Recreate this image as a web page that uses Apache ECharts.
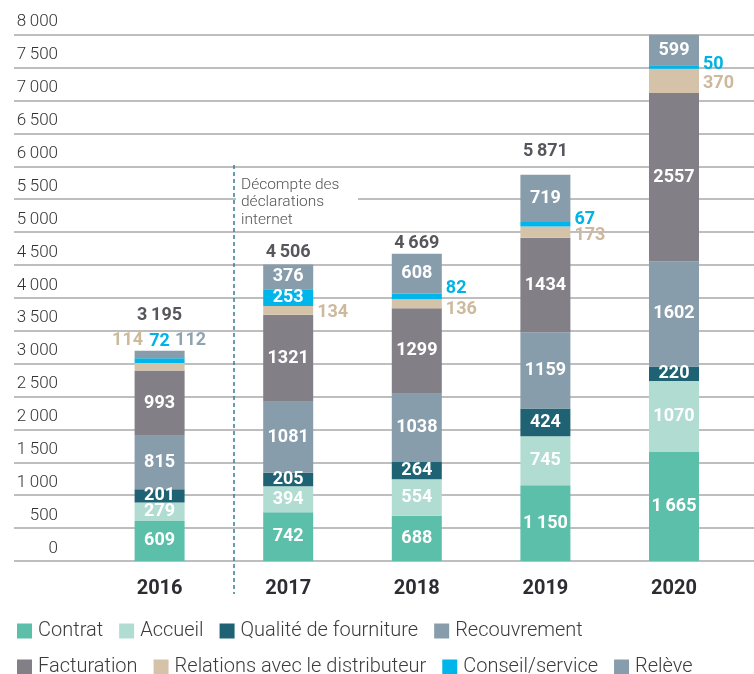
<!DOCTYPE html>
<html>
<head>
<meta charset="utf-8">
<script src="https://cdn.jsdelivr.net/npm/echarts@6/dist/echarts.min.js"></script>
<style>
html,body{margin:0;padding:0;background:#fff;}
#c{width:754px;height:674px;}
</style>
</head>
<body>
<div id="c"></div>
<script>
// ---- data ----
const categories = ['2016', '2017', '2018', '2019', '2020'];
const contrat      = [609, 742, 688, 1150, 1665];
const accueil      = [279, 394, 554, 745, 1070];
const qualite      = [201, 205, 264, 424, 220];
const recouvrement = [815, 1081, 1038, 1159, 1602];
const facturation  = [993, 1321, 1299, 1434, 2557];
const relations    = [114, 134, 136, 173, 370];
const conseil      = [72, 253, 82, 67, 50];
const releve       = [112, 376, 608, 719, 599];
const totals       = [3195, 4506, 4669, 5871, 8133];
const yMin = 0, yMax = 8000, yStep = 500;
const annotationText = 'Décompte des\ndéclarations\ninternet';

// ---- styling ----
const FONT = 'Roboto';
const fmt = v => String(v).replace(/\B(?=(\d{3})+(?!\d))/g, '\u2009');

const seriesDefs = [
  { name: 'Contrat', values: contrat, color: '#5cbfaa', spaced: true },
  { name: 'Accueil', values: accueil, color: '#b1dcd2' },
  { name: 'Qualité de fourniture', values: qualite, color: '#1e6273' },
  { name: 'Recouvrement', values: recouvrement, color: '#889dab' },
  { name: 'Facturation', values: facturation, color: '#837f87' },
  { name: 'Relations avec le distributeur', values: relations, color: '#d5c3a9',
    label: { position: 'right', distance: 4, color: '#cdb99c' },
    items: { 0: { position: 'top', distance: 0, offset: [-32, -13] }, 1: { offset: [0, 2] }, 2: { offset: [0, 6] }, 3: { offset: [0, 3] }, 4: { offset: [0, 3] } } },
  { name: 'Conseil/service', values: conseil, color: '#00b5e9',
    label: { position: 'right', distance: 4, color: '#00b3e6' },
    items: { 0: { position: 'top', distance: 0, offset: [0, -8] }, 1: { position: 'inside', color: '#fff', offset: [0, 0] }, 2: { offset: [0, -8] }, 3: { offset: [0, -5] }, 4: { offset: [0, -3] } } },
  { name: 'Relève', values: releve, color: '#889dab',
    items: { 0: { position: 'top', distance: 0, color: '#8fa3b0', offset: [31, -1] } } }
];
const totalOffsets = [-35, -12, -10, -23, -10];

const baseLabel = { show: true, position: 'inside', color: '#ffffff', fontFamily: FONT, fontWeight: 'bold', fontSize: 18 };

const barSeries = seriesDefs.map(d => ({
  name: d.name,
  type: 'bar',
  stack: 'total',
  xAxisIndex: 1, yAxisIndex: 1,
  barWidth: 50,
  itemStyle: { color: d.color },
  label: Object.assign({}, baseLabel, d.label || {}, { formatter: p => d.spaced ? fmt(p.value) : String(p.value) }),
  emphasis: { disabled: true },
  data: d.values.map((v, i) => (d.items && d.items[i]) ? { value: v, label: d.items[i] } : v)
}));

const totalSeries = {
  name: 'Total', type: 'scatter', xAxisIndex: 1, yAxisIndex: 1,
  symbolSize: 0, silent: true, z: 5,
  label: { show: true, position: 'inside', color: '#2c2c33', fontFamily: FONT, fontWeight: 'bold', fontSize: 18, formatter: p => fmt(p.value) },
  data: totals.map((v, i) => ({ value: v, label: { offset: [0, totalOffsets[i]] } }))
};

const legendCommon = { left: 12, itemGap: 16, itemWidth: 15, itemHeight: 15, icon: 'rect', selectedMode: false,
  textStyle: { fontFamily: FONT, fontSize: 20, fontWeight: 300, color: '#3c3c3c', padding: [0, 0, 0, 1] } };

const chart = echarts.init(document.getElementById('c'), null, { renderer: 'canvas' });
chart.setOption({
  animation: false,
  backgroundColor: '#ffffff',
  textStyle: { fontFamily: FONT },
  color: seriesDefs.map(d => d.color),
  grid: [
    { left: 14, right: 0, top: 34.7, bottom: 113 },
    { left: 95.3, right: 15.7, top: 34.7, bottom: 113 }
  ],
  legend: [
    Object.assign({}, legendCommon, { top: 616, data: seriesDefs.slice(0, 4).map(d => d.name) }),
    Object.assign({}, legendCommon, { top: 652, data: seriesDefs.slice(4).map(d => d.name) })
  ],
  xAxis: [
    { type: 'value', gridIndex: 0, show: false, min: 0, max: 1 },
    { type: 'category', gridIndex: 1, data: categories,
      axisLine: { show: false }, axisTick: { show: false },
      axisLabel: { margin: 18, fontFamily: FONT, fontWeight: 'bold', fontSize: 20, color: '#2c2c33' } }
  ],
  yAxis: [
    { type: 'value', gridIndex: 0, min: yMin, max: yMax, interval: yStep,
      axisLine: { show: false }, axisTick: { show: false },
      splitLine: { show: true, lineStyle: { color: '#a9a9a9', width: 1.5 } },
      axisLabel: { margin: -44, verticalAlign: 'bottom', padding: [0, 0, 4, 0],
        fontFamily: FONT, fontSize: 17, fontWeight: 300, color: '#333333', formatter: v => fmt(v) } },
    { type: 'value', gridIndex: 1, min: yMin, max: yMax, interval: yStep, show: false, splitLine: { show: false } }
  ],
  series: barSeries.concat([totalSeries]),
  graphic: [
    { type: 'line', z: 10, shape: { x1: 234, y1: 165, x2: 234, y2: 594 },
      style: { stroke: '#3a7e8f', lineWidth: 1.5, lineDash: [4, 3] } },
    { type: 'rect', z: 10, shape: { x: 236, y: 170, width: 122, height: 58 }, style: { fill: '#ffffff' } },
    { type: 'text', z: 11, left: 241, top: 176,
      style: { text: annotationText, fontFamily: FONT, fontSize: 15.5, fontWeight: 300, fill: '#555555', lineHeight: 17.5 } }
  ]
});
</script>
</body>
</html>
